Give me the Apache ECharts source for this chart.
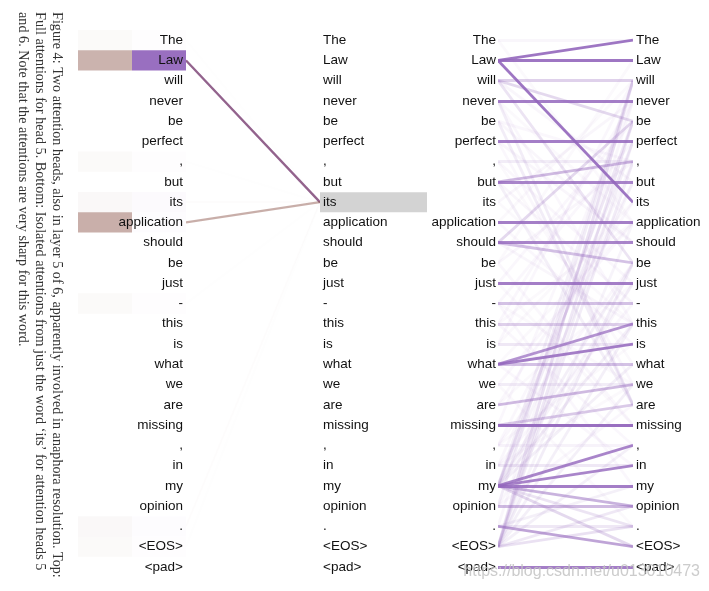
<!DOCTYPE html>
<html><head><meta charset="utf-8">
<script src="https://cdn.jsdelivr.net/npm/echarts@6/dist/echarts.min.js"></script>
<style>html,body{margin:0;padding:0;background:#fff}#c{width:709px;height:591px}</style>
</head><body><div id="c"></div>
<script>
// tokens (rows, top to bottom)
var tokens = ['The','Law','will','never','be','perfect',',','but','its','application','should','be','just','-','this','is','what','we','are','missing',',','in','my','opinion','.','<EOS>','<pad>'];
// index of the query word in the left panel
var queryIndex = 8;
// attention from "its" to every token, head 6 (brown) and head 5 (purple)
var head6 = [0.03,0.45,0,0,0,0,0.03,0,0.04,0.47,0,0,0,0.03,0,0,0,0,0,0,0,0,0,0,0.04,0.03,0];
var head5 = [0.01,0.95,0,0,0,0,0.01,0,0.03,0.02,0,0,0,0.01,0,0,0,0,0,0,0,0,0,0,0.02,0.01,0];
// full attention links for the right panel: [from row, to row, weight]
var fullLinks = [
  [1,0,0.9],[1,1,0.9],[1,8,0.9],[3,3,0.85],[5,5,0.85],[7,7,0.8],[9,9,0.85],[10,10,0.8],
  [12,12,0.85],[19,19,0.95],[22,20,0.8],[22,21,0.8],[22,22,0.85],[26,26,0.85],[16,15,0.85],[16,14,0.7],
  [2,2,0.3],[2,4,0.25],[7,6,0.45],[10,11,0.4],[10,4,0.25],[13,13,0.4],[14,14,0.3],[16,16,0.4],
  [18,17,0.45],[19,18,0.35],[22,23,0.5],[22,25,0.25],[23,23,0.45],[24,25,0.6],[15,15,0.15],[17,17,0.12],
  [21,21,0.15],[20,20,0.08],[6,6,0.12],[24,24,0.15],[25,24,0.2],[0,0,0.06],
  [25,2,0.2],[22,4,0.15],[25,6,0.12],[23,2,0.12],[2,11,0.18],[3,18,0.12],[4,18,0.12],[7,18,0.1],
  [25,4,0.15],[25,5,0.1],[25,11,0.12],[25,14,0.1],[25,17,0.1],[25,23,0.15],[25,20,0.1],
  [22,2,0.1],[22,5,0.12],[22,11,0.1],[22,14,0.1],[22,16,0.1],[22,24,0.18],[24,22,0.1],
  [4,10,0.06],[6,12,0.05],[8,3,0.06],[9,15,0.05],[11,19,0.05],[13,5,0.05],[14,20,0.05],[15,2,0.05],
  [17,9,0.05],[20,7,0.05],[21,13,0.05],[0,9,0.04],[3,14,0.05],[5,17,0.05],[12,4,0.05],[16,21,0.05],
  [18,8,0.05],[19,3,0.05],[2,7,0.06],[10,14,0.06],[5,10,0.06],[7,13,0.06],[11,6,0.06],[23,12,0.06],
  [24,3,0.06],[25,9,0.07],[22,7,0.07],[22,12,0.07],[21,6,0.06],[20,11,0.05],[14,3,0.05],[13,22,0.05],
  [6,16,0.04],[9,2,0.04],[12,19,0.04],[15,8,0.04],[17,24,0.04],[8,14,0.04],[11,1,0.04],[14,9,0.04],
  [4,6,0.05],[13,17,0.04],[16,9,0.04],[20,15,0.04],[23,18,0.05],[21,17,0.04],[3,9,0.04],[18,12,0.04]
];
var captionLines = [
  'Figure 4: Two attention heads, also in layer 5 of 6, apparently involved in anaphora resolution. Top:',
  'Full attentions for head 5. Bottom: Isolated attentions from just the word \u2018its\u2019 for attention heads 5',
  'and 6. Note that the attentions are very sharp for this word.'
];
var watermark = 'https://blog.csdn.net/u013010473';

var PURPLE = '#9467bd', BROWN = '#8c564b';
var FONT = '"Liberation Sans", Arial, sans-serif';
var chart = echarts.init(document.getElementById('c'), null, {renderer:'canvas'});

var leftLinks = [];
tokens.forEach(function(t,i){
  if (head5[i] > 0) leftLinks.push({coords:[[0,i],[1,queryIndex]], lineStyle:{color:PURPLE, opacity:head5[i]*(head5[i]>0.1?1:0.3), width:2.2}});
});
tokens.forEach(function(t,i){
  if (head6[i] > 0) leftLinks.push({coords:[[0,i],[1,queryIndex]], lineStyle:{color:BROWN, opacity:head6[i]*(head6[i]>0.1?1:0.3), width:2.2}});
});
var rightLinks = fullLinks.slice().sort(function(a,b){return a[2]-b[2];}).map(function(l){
  return {coords:[[0,l[0]],[1,l[1]]], lineStyle:{color:PURPLE, opacity:l[2], width:2.8}};
});
var heatData = [];
tokens.forEach(function(t,i){ heatData.push([0,i,head6[i]]); heatData.push([1,i,head5[i]]); });

var labelBase = {color:'#111', fontSize:13.5, fontFamily:FONT};
function yax(grid, pos, extra){
  var a = {gridIndex:grid, type:'category', data:tokens, inverse:true, position:pos, z:10,
    axisLine:{show:false}, axisTick:{show:false}, splitLine:{show:false},
    axisLabel:Object.assign({interval:0, margin:3}, labelBase)};
  if (extra) Object.assign(a.axisLabel, extra);
  return a;
}
var graphics = captionLines.map(function(s,k){
  return {type:'text', x:[57,40,23][k], y:12, rotation:-Math.PI/2,
    style:{text:s, font:'14.2px "Liberation Serif", "Times New Roman", serif', fill:'#333', textAlign:'left', textVerticalAlign:'middle'}};
});
graphics.push({type:'text', x:700, y:572, style:{text:watermark, font:'16px '+FONT, fill:'rgba(195,195,195,0.85)', textAlign:'right', textVerticalAlign:'middle'}, z:100});

chart.setOption({
  animation:false,
  grid:[
    {left:186, width:134, top:30, height:547},
    {left:498, width:135, top:30, height:547},
    {left:78, width:108, top:30, height:547}
  ],
  xAxis:[
    {gridIndex:0, type:'value', min:0, max:1, show:false},
    {gridIndex:1, type:'value', min:0, max:1, show:false},
    {gridIndex:2, type:'category', data:['h6','h5'], show:false}
  ],
  yAxis:[
    yax(0,'left'),
    yax(0,'right',{margin:0, formatter:function(v,i){return (i===queryIndex?'{hl|':'{n|')+v+'}';},
      rich:{n:{padding:[0,0,0,3], fontSize:13.5, fontFamily:FONT, color:'#111'},
            hl:{padding:[0,0,0,3], width:104, height:20, lineHeight:20, backgroundColor:'#d3d3d3', fontSize:13.5, fontFamily:FONT, color:'#111'}}}),
    yax(1,'left',{margin:2}),
    yax(1,'right',{margin:3}),
    {gridIndex:2, type:'category', data:tokens, inverse:true, show:false}
  ],
  graphic:graphics,
  series:[
    {type:'custom', xAxisIndex:2, yAxisIndex:4, z:0, data:heatData, encode:{x:0,y:1},
      renderItem:function(params, api){
        var c = api.coord([api.value(0), api.value(1)]);
        var s = api.size([1,1]);
        return {type:'rect', shape:{x:c[0]-s[0]/2, y:c[1]-s[1]/2, width:s[0], height:s[1]},
          style:{fill: api.value(0)===0 ? BROWN : PURPLE, opacity: api.value(2)}};
      }},
    {type:'lines', coordinateSystem:'cartesian2d', xAxisIndex:0, yAxisIndex:0, z:3, data:leftLinks, silent:true},
    {type:'lines', coordinateSystem:'cartesian2d', xAxisIndex:1, yAxisIndex:2, z:3, data:rightLinks, silent:true}
  ]
});
</script></body></html>
